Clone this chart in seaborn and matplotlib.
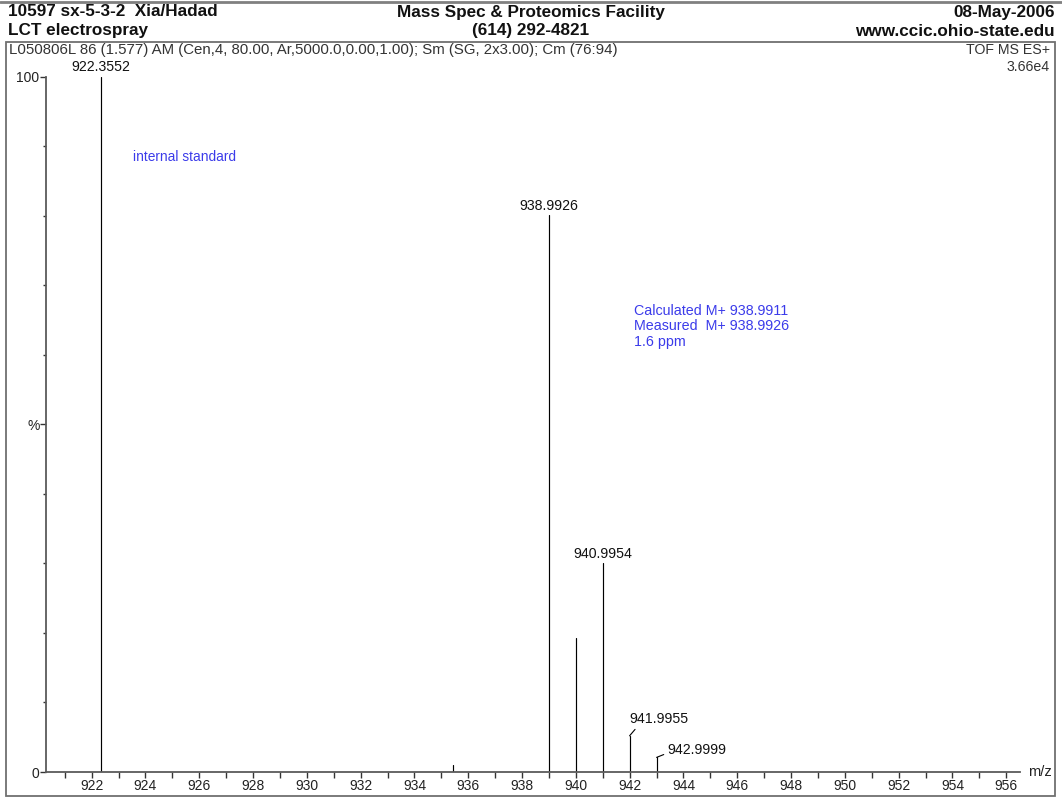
import numpy as np
import pandas as pd
import matplotlib
matplotlib.use("Agg")
import matplotlib.pyplot as plt
from matplotlib.patches import Rectangle
from matplotlib.lines import Line2D
from matplotlib.ticker import MultipleLocator, FixedLocator, FixedFormatter
import seaborn as sns

# ---- data ----
peak_mz = [922.3552, 935.43, 938.9926, 939.9955, 940.9954, 941.9955, 942.9999]
peak_rel = [100.0, 1.0, 80.1, 19.3, 30.0, 5.2, 2.1]
peak_labels = ["922.3552", "", "938.9926", "", "940.9954", "941.9955", "942.9999"]
x_tick_labels = [str(v) for v in range(922, 957, 2)]
y_tick_values = [0, 50, 100]
y_tick_labels = ["0", "%", "100"]

header_left = ["10597 sx-5-3-2  Xia/Hadad", "LCT electrospray"]
header_center = ["Mass Spec & Proteomics Facility", "(614) 292-4821"]
header_right = ["08-May-2006", "www.ccic.ohio-state.edu"]
info_line = "L050806L 86 (1.577) AM (Cen,4, 80.00, Ar,5000.0,0.00,1.00); Sm (SG, 2x3.00); Cm (76:94)"
info_right = ["TOF MS ES+", "3.66e4"]
note_std = "internal standard"
note_calc = ["Calculated M+ 938.9911", "Measured  M+ 938.9926", "1.6 ppm"]

# ---- long-form table for stick drawing ----
rows = []
for i, (m, r) in enumerate(zip(peak_mz, peak_rel)):
    rows.append({"peak": i, "mz": m, "rel": 0.0})
    rows.append({"peak": i, "mz": m, "rel": r})
df = pd.DataFrame(rows)

sns.set_theme(style="ticks")
plt.rcParams["font.family"] = ["Liberation Sans", "DejaVu Sans"]

W, H = 1062, 797
fig = plt.figure(figsize=(W / 100, H / 100), dpi=100)
fig.patch.set_facecolor("white")

def fx(px):
    return px / W

def fy(py):
    return 1 - py / H

ax = fig.add_axes([fx(45.7), fy(772), fx(1020) - fx(45.7), (772 - 76.5) / H])

sns.lineplot(data=df, x="mz", y="rel", units="peak", estimator=None, sort=False,
             color="black", linewidth=0.85, ax=ax, legend=False)

ax.set_xlim(920.29, 956.51)
ax.set_ylim(0, 100)
ax.set_xlabel("")
ax.set_ylabel("")
for s in ["top", "right"]:
    ax.spines[s].set_visible(False)
for s in ["left", "bottom"]:
    ax.spines[s].set_color("#5a5a5a")
    ax.spines[s].set_linewidth(1.3)

ax.xaxis.set_major_locator(FixedLocator([float(v) for v in x_tick_labels]))
ax.xaxis.set_major_formatter(FixedFormatter(x_tick_labels))
ax.xaxis.set_minor_locator(MultipleLocator(1))
ax.yaxis.set_major_locator(FixedLocator(y_tick_values))
ax.yaxis.set_major_formatter(FixedFormatter(y_tick_labels))
ax.yaxis.set_minor_locator(MultipleLocator(10))
ax.tick_params(axis="x", which="both", direction="out", length=4.0, width=1.0,
               color="#333333", labelsize=10, labelcolor="#222222", pad=1)
ax.tick_params(axis="y", which="major", direction="out", length=4, width=1.0,
               color="#333333", labelsize=10, labelcolor="#222222", pad=0.5)
ax.tick_params(axis="y", which="minor", direction="out", length=2.5, width=1.0,
               color="#333333")

ax.text(1.008, 0, "m/z", transform=ax.transAxes, ha="left", va="center",
        fontsize=10.5, color="#222222")

# peak labels
for m, r, lab in zip(peak_mz, peak_rel, peak_labels):
    if not lab:
        continue
    if r > 10:
        ax.annotate(lab, xy=(m, r), xytext=(0, 1.5), textcoords="offset points",
                    ha="center", va="bottom", fontsize=10.2, color="#111111")
    elif r > 3:
        ax.annotate(lab, xy=(m, r), xytext=(0, 7), textcoords="offset points",
                    ha="left", va="bottom", fontsize=10.2, color="#111111",
                    arrowprops=dict(arrowstyle="-", lw=0.8, color="black",
                                    shrinkA=0, shrinkB=0, relpos=(0.14, 0)))
    else:
        ax.annotate(lab, xy=(m, r), xytext=(7.5, 5), textcoords="offset points",
                    ha="left", va="center", fontsize=10.2, color="#111111",
                    arrowprops=dict(arrowstyle="-", lw=0.8, color="black",
                                    shrinkA=0, shrinkB=0, relpos=(0, 0.3)))

blue = "#3b3bea"
fig.text(fx(133), fy(157), note_std, ha="left", va="center", fontsize=9.9, color=blue)
for i, t in enumerate(note_calc):
    fig.text(fx(634), fy(311 + 15.5 * i), t, ha="left", va="center", fontsize=10.3, color=blue)

# header
for i in range(2):
    yy = fy(12 + 19 * i)
    fig.text(fx(8), yy, header_left[i], ha="left", va="center", fontsize=12.3,
             fontweight="bold", color="#111111")
    fig.text(fx(531), yy, header_center[i], ha="center", va="center", fontsize=12.3,
             fontweight="bold", color="#111111")
    fig.text(fx(1055), yy, header_right[i], ha="right", va="center", fontsize=12.3,
             fontweight="bold", color="#111111")
fig.text(fx(9), fy(50), info_line, ha="left", va="center", fontsize=10.8, color="#333333")
fig.text(fx(1050), fy(50), info_right[0], ha="right", va="center", fontsize=10.2, color="#333333")
fig.text(fx(1050), fy(67), info_right[1], ha="right", va="center", fontsize=10.2, color="#333333")

# frame
fig.add_artist(Rectangle((fx(6), fy(796)), fx(1055) - fx(6), (796 - 42) / H,
                         transform=fig.transFigure, fill=False, edgecolor="#707070", lw=1.3))
fig.add_artist(Line2D([0, 1], [fy(1.7), fy(1.7)], transform=fig.transFigure,
                      color="#808080", lw=2))

fig.savefig("out.png", dpi=100, facecolor="white")
